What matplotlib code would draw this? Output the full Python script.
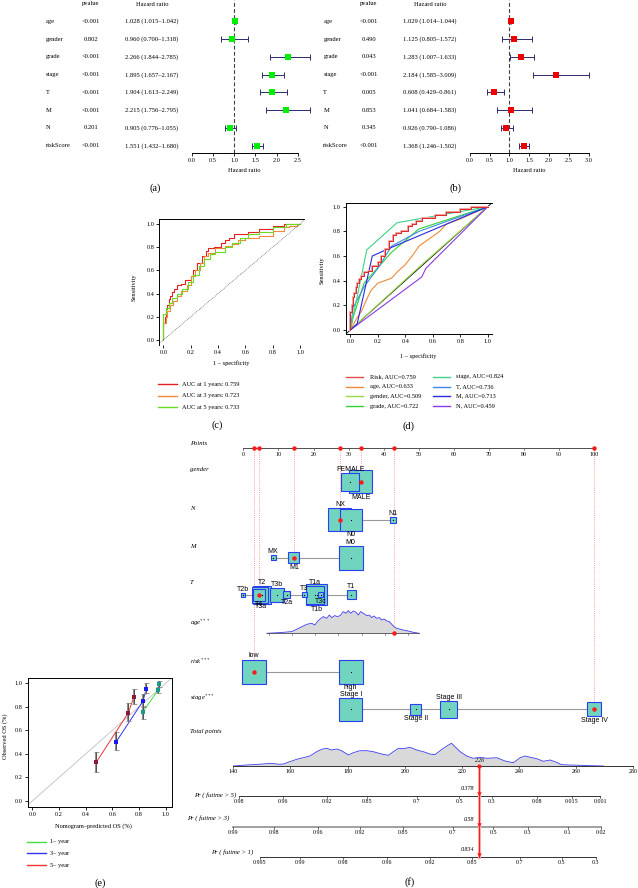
import matplotlib
matplotlib.use("Agg")
import matplotlib.pyplot as plt
import matplotlib.transforms as mtransforms
from matplotlib.lines import Line2D
from matplotlib.patches import Rectangle
import numpy as np

W, H = 638, 888
plt.rcParams["font.family"] = ["Liberation Serif", "DejaVu Serif"]
plt.rcParams["mathtext.fontset"] = "stix"

# ---- (a)/(b) forest plots ----
forest_vars = ["age", "gender", "grade", "stage", "T", "M", "N", "riskScore"]
uni_p = ["<0.001", "0.802", "<0.001", "<0.001", "<0.001", "<0.001", "0.201", "<0.001"]
uni_hr = [1.028, 0.960, 2.266, 1.895, 1.904, 2.215, 0.905, 1.551]
uni_lo = [1.015, 0.700, 1.844, 1.657, 1.613, 1.756, 0.776, 1.432]
uni_hi = [1.042, 1.318, 2.785, 2.167, 2.249, 2.795, 1.055, 1.680]
multi_p = ["<0.001", "0.490", "0.043", "<0.001", "0.005", "0.853", "0.345", "<0.001"]
multi_hr = [1.029, 1.125, 1.283, 2.184, 0.608, 1.041, 0.926, 1.368]
multi_lo = [1.014, 0.805, 1.007, 1.585, 0.429, 0.684, 0.790, 1.246]
multi_hi = [1.044, 1.572, 1.633, 3.009, 0.861, 1.583, 1.086, 1.502]

# ---- (c) time ROC ----
roc1_x = [0, 0, 0.01, 0.02, 0.03, 0.04, 0.05, 0.06, 0.08, 0.10, 0.13, 0.16, 0.20, 0.22, 0.25, 0.28,
          0.31, 0.33, 0.37, 0.42, 0.45, 0.48, 0.52, 0.55, 0.62, 0.70, 0.80, 0.88, 0.90, 1.0]
roc1_y = [0, 0.13, 0.15, 0.20, 0.27, 0.30, 0.35, 0.38, 0.41, 0.44, 0.47, 0.48, 0.52, 0.55, 0.60, 0.66,
          0.72, 0.77, 0.79, 0.80, 0.84, 0.86, 0.88, 0.91, 0.91, 0.93, 0.96, 0.98, 1.0, 1.0]
roc3_x = [0, 0, 0.02, 0.03, 0.05, 0.07, 0.10, 0.13, 0.17, 0.20, 0.23, 0.27, 0.30, 0.33, 0.38, 0.45,
          0.50, 0.55, 0.60, 0.70, 0.80, 0.88, 0.92, 0.98, 1.0]
roc3_y = [0, 0.10, 0.15, 0.20, 0.25, 0.30, 0.34, 0.38, 0.42, 0.47, 0.55, 0.60, 0.66, 0.72, 0.75, 0.79,
          0.81, 0.83, 0.86, 0.88, 0.90, 0.94, 0.97, 0.98, 1.0]
roc5_x = [0, 0, 0.02, 0.04, 0.06, 0.10, 0.14, 0.18, 0.22, 0.26, 0.30, 0.34, 0.38, 0.45, 0.50, 0.56,
          0.62, 0.70, 0.80, 0.90, 0.98, 1.0]
roc5_y = [0, 0.10, 0.22, 0.28, 0.32, 0.36, 0.40, 0.44, 0.50, 0.56, 0.64, 0.70, 0.74, 0.76, 0.80, 0.84,
          0.88, 0.91, 0.93, 0.97, 1.0, 1.0]
roc_c_labels = ["AUC at 1 years: 0.759", "AUC at 3 years: 0.723", "AUC at 5 years: 0.733"]

# ---- (d) ROC of clinical variables ----
risk_x = roc1_x
risk_y = roc1_y
age_x = [0, 0.05, 0.08, 0.12, 0.15, 0.20, 0.25, 0.30, 0.35, 0.40, 0.45, 0.50, 0.55, 0.60, 0.65, 0.70, 0.80, 1.0]
age_y = [0, 0.10, 0.15, 0.25, 0.32, 0.38, 0.40, 0.42, 0.48, 0.53, 0.60, 0.68, 0.72, 0.76, 0.80, 0.86, 0.90, 1.0]
gender_x = [0, 0.50, 1.0]
gender_y = [0, 0.51, 1.0]
grade_x = [0, 0.02, 0.10, 0.30, 0.50, 1.0]
grade_y = [0, 0.10, 0.38, 0.63, 0.82, 1.0]
stage_x = [0, 0.12, 0.34, 1.0]
stage_y = [0, 0.65, 0.87, 1.0]
t_x = [0, 0.02, 0.10, 0.20, 0.30, 0.50, 1.0]
t_y = [0, 0.18, 0.35, 0.50, 0.68, 0.80, 1.0]
m_x = [0, 0.05, 0.16, 0.30, 1.0]
m_y = [0, 0.05, 0.60, 0.67, 1.0]
n_x = [0, 0.52, 0.55, 1.0]
n_y = [0, 0.43, 0.50, 1.0]
roc_d_labels = ["Risk, AUC=0.759", "age, AUC=0.633", "gender, AUC=0.509", "grade, AUC=0.722",
                "stage, AUC=0.824", "T, AUC=0.736", "M, AUC=0.713", "N, AUC=0.459"]

# ---- (e) calibration ----
cal1_pred = [0.83, 0.945, 0.95]
cal1_obs = [0.76, 0.945, 0.995]
cal1_lo = [0.70, 0.92, 0.97]
cal1_hi = [0.81, 0.97, 1.02]
cal3_pred = [0.63, 0.83, 0.855]
cal3_obs = [0.505, 0.85, 0.955]
cal3_lo = [0.43, 0.80, 0.92]
cal3_hi = [0.59, 0.91, 1.00]
cal5_pred = [0.48, 0.72, 0.76]
cal5_obs = [0.33, 0.75, 0.88]
cal5_lo = [0.25, 0.68, 0.82]
cal5_hi = [0.42, 0.83, 0.95]

# ---- (f) nomogram (points) ----
gender_lv = ["FEMALE", "MALE"]
gender_pts = [30.5, 33.5]
gender_sz = [18, 23]
n_lv = ["NX", "N0", "N1"]
n_pts = [27.5, 30.6, 42.7]
n_sz = [23, 22, 6]
m_lv = ["MX", "M1", "M0"]
m_pts = [8.5, 14.4, 30.6]
m_sz = [5, 11, 24]
t_lv = ["T2b", "T2", "T3a", "T4", "T3b", "T2a", "T3", "T1b", "T1a", "T3c", "T1"]
t_pts = [0.0, 5.4, 4.9, 4.6, 9.6, 12.4, 17.3, 20.9, 20.4, 22.0, 30.7]
t_sz = [4, 18, 16, 12, 14, 7, 5, 21, 18, 5, 9]
risk_lv = ["low", "high"]
risk_pts = [2.95, 30.6]
risk_sz = [24, 24]
stage_lv = ["Stage I", "Stage II", "Stage III", "Stage IV"]
stage_pts = [30.6, 49.2, 58.5, 100]
stage_sz = [23, 11, 17, 14]
age_dens_pts = [6.7, 10.5, 13.8, 16.2, 18.1, 19.5, 20.4, 21.1, 21.9, 22.8, 23.8, 24.5, 25.2, 26.1, 26.8,
                27.6, 28.5, 29.3, 29.9, 30.6, 31.4, 32.1, 32.8, 33.4, 34.2, 35.2, 35.9, 36.6, 37.2, 38.0,
                38.8, 39.4, 40.1, 40.9, 41.6, 42.3, 42.9, 43.7, 44.7, 45.6, 47.0, 48.4, 50.1]
age_dens_h = [0, 0.7, 1.7, 5.7, 9.0, 10.0, 8.3, 11.7, 14.3, 16.7, 15.0, 18.3, 15.7, 17.7, 16.7,
              17.7, 21.7, 20.0, 22.7, 20.0, 22.3, 21.0, 18.3, 21.7, 20.0, 17.7, 18.3, 15.7, 17.3, 15.0,
              15.7, 13.3, 14.3, 12.3, 11.7, 9.0, 6.7, 5.0, 4.0, 3.3, 2.3, 1.0, 0]
age_tick_pts = [7.3, 13.8, 20.4, 27.1, 33.7, 40.4, 47.0]
age_value_pts = 42.8

# ---- (f) nomogram (total points / probabilities) ----
tot_dens_t = [140.0, 144.7, 150.5, 152.8, 156.3, 157.5, 159.8, 162.2, 164.5, 166.8, 169.2, 170.9, 172.7,
              174.4, 176.2, 177.9, 180.3, 182.0, 184.3, 186.7, 189.0, 191.9, 194.3, 196.0, 197.8, 199.5,
              201.8, 204.2, 206.5, 208.8, 210.6, 211.2, 213.5, 215.3, 216.4, 217.6, 219.4, 221.7, 224.0,
              226.4, 228.7, 232.2, 235.1, 238.0, 240.4, 242.1, 243.9, 246.2, 248.5, 250.9, 252.6, 254.9,
              257.9, 261.4, 264.9, 269.5]
tot_dens_h = [0, 1.0, 2.0, 2.7, 1.7, 2.0, 4.3, 6.7, 8.3, 10.0, 14.3, 16.7, 17.7,
              16.0, 17.0, 15.3, 11.0, 13.3, 15.3, 15.3, 14.3, 12.0, 10.7, 14.3, 17.7, 17.3,
              18.7, 16.0, 14.3, 12.0, 11.3, 12.7, 17.7, 21.0, 22.7, 19.3, 14.3, 10.0, 7.7,
              8.7, 7.7, 8.3, 5.0, 3.3, 8.3, 10.0, 8.7, 7.3, 4.7, 6.0, 4.3, 1.3,
              1.0, 0.7, 0.3, 0]
tot_ticks = [140, 160, 180, 200, 220, 240, 260, 280]
total_score = 226
pr5_labels = ["0.98", "0.96", "0.92", "0.85", "0.7", "0.5", "0.3", "0.08", "0.015", "0.001"]
pr5_at = [142.1, 157.3, 172.7, 186.7, 204.2, 219.0, 230.4, 246.4, 258.4, 268.4]
pr3_labels = ["0.99", "0.98", "0.96", "0.92", "0.85", "0.7", "0.5", "0.3", "0.1", "0.02"]
pr3_at = [140.0, 154.4, 169.5, 184.3, 199.3, 216.8, 231.0, 243.0, 257.0, 268.6]
pr1_labels = ["0.995", "0.99", "0.98", "0.96", "0.92", "0.85", "0.7", "0.5", "0.3"]
pr1_at = [149.3, 163.3, 178.3, 193.7, 208.8, 223.4, 240.3, 254.9, 266.8]
pred_probs = ["0.378", "0.58", "0.834"]

fig = plt.figure(figsize=(W / 100, H / 100), dpi=100)
PX = mtransforms.Affine2D().scale(1 / W, -1 / H).translate(0, 1) + fig.transFigure


def px_ax(x0, y0, x1, y1, **kw):
    return fig.add_axes([x0 / W, 1 - y1 / H, (x1 - x0) / W, (y1 - y0) / H], **kw)


def ftext(x, y, s, **kw):
    kw.setdefault("ha", "center")
    kw.setdefault("va", "center")
    kw.setdefault("fontsize", 4.6)
    return fig.text(x, y, s, transform=PX, **kw)


def fline(xs, ys, **kw):
    fig.add_artist(Line2D(xs, ys, transform=PX, **kw))


def lim(p0, p1, a0, v0, a1, v1):
    s = (v1 - v0) / (a1 - a0)
    return v0 + (p0 - a0) * s, v0 + (p1 - a0) * s


# ---------------- (a) and (b) ----------------
def forest(bx0, bx1, px0, px_end, tick_end, lab_x, p_x, hr_x, pv, hr, lo, hi, color, tag, tag_x):
    ax = px_ax(bx0, 0, bx1, 152.7)
    ax.set_xlim(*lim(bx0, bx1, px0, 0, px_end, tick_end))
    ax.set_ylim(*lim(152.7, 0, 21.3, 0, 145.7, 7))
    rows = np.arange(len(hr))
    hr, lo, hi = np.array(hr), np.array(lo), np.array(hi)
    ax.axvline(1, color="0.25", lw=0.8, ls=(0, (3.5, 2)), zorder=1)
    ax.errorbar(hr, rows, xerr=[hr - lo, hi - hr], fmt="none", ecolor="#2d2d70",
                elinewidth=0.7, capsize=2.3, capthick=0.7, zorder=2)
    ax.plot(hr, rows, "s", color=color, ms=5, mew=0, zorder=3)
    for s in ["top", "right", "left"]:
        ax.spines[s].set_visible(False)
    ax.spines["bottom"].set_bounds(0, tick_end)
    ax.spines["bottom"].set_linewidth(0.7)
    ticks = np.arange(0, tick_end + 0.01, 0.5)
    ax.set_xticks(ticks)
    ax.set_xticklabels([f"{t:.1f}" for t in ticks])
    ax.set_yticks([])
    ax.tick_params(axis="x", labelsize=4.5, length=2.5, width=0.6, pad=1.5)
    ax.patch.set_alpha(0)
    tr = mtransforms.blended_transform_factory(PX, ax.transData)
    for i, name in enumerate(forest_vars):
        ax.text(lab_x, i, name, transform=tr, ha="left", va="center", fontsize=4.7)
        ax.text(p_x, i, pv[i], transform=tr, ha="center", va="center", fontsize=4.7)
        ax.text(hr_x, i, f"{hr[i]:.3f} ({lo[i]:.3f}\u2013{hi[i]:.3f})", transform=tr,
                ha="center", va="center", fontsize=4.7)
    ftext(p_x, 4, "pvalue", fontsize=4.7)
    ftext(hr_x, 4, "Hazard ratio", fontsize=4.7)
    ftext((px0 + px_end) / 2, 171, "Hazard ratio", fontsize=4.7)
    ftext(tag_x, 188, tag, fontsize=7.5)


forest(185, 318, 191.7, 297.7, 2.5, 45.7, 90.7, 152, uni_p, uni_hr, uni_lo, uni_hi,
       "#00ee00", "(a)", 155)
forest(462, 600, 469.7, 588.7, 3.0, 323.3, 369, 430, multi_p, multi_hr, multi_lo, multi_hi,
       "#ee0000", "(b)", 455)


def roc_axes(x0, y0, x1, y1, ox, onex, oy, oney, bottom):
    ax = px_ax(x0, y0, x1, y1)
    ax.set_xlim(*lim(x0, x1, ox, 0, onex, 1))
    ax.set_ylim(*lim(y1, y0, oy, 0, oney, 1))
    ax.spines["right"].set_visible(False)
    ax.spines["bottom"].set_visible(bottom)
    for s in ax.spines.values():
        s.set_linewidth(0.7)
    ticks = np.arange(0, 1.01, 0.2)
    ax.set_xticks(ticks)
    ax.set_yticks(ticks)
    ax.set_xticklabels([f"{t:.1f}" for t in ticks])
    ax.set_yticklabels([f"{t:.1f}" for t in ticks])
    ax.tick_params(labelsize=4.5, length=2, width=0.6, pad=1.5)
    return ax


# ---------------- (c) ----------------
axc = roc_axes(159.3, 219.3, 304.3, 345, 163.3, 300, 340, 224, False)
c_cols = ["#e42020", "#ee8a3a", "#66dd22"]
for xs, ys, col in zip([roc1_x, roc3_x, roc5_x], [roc1_y, roc3_y, roc5_y], c_cols):
    axc.plot(xs, ys, color=col, lw=0.8, drawstyle="steps-pre")
axc.axline((0, 0), (1, 1), color="0.2", lw=0.5, ls=(0, (1, 1.5)))
ftext(231.7, 362.7, "1 \u2013 specificity")
ftext(134, 286.7, "Sensitivity", rotation=90)
for i, (lab, col) in enumerate(zip(roc_c_labels, c_cols)):
    y = 384 + i * 11.5
    fline([158, 176.7], [y, y], color=col, lw=1)
    ftext(182, y, lab, ha="left")
ftext(216.7, 425, "(c)", fontsize=7.5)

# ---------------- (d) ----------------
axd = roc_axes(345.7, 202.7, 492.3, 334.3, 350.3, 487.7, 330, 206.7, True)
d_cols = ["#e84a4a", "#ee8a3a", "#9ad84a", "#33d033", "#3ed28a", "#3a8ee6", "#2a2ae0", "#8a3ae6"]
axd.axline((0, 0), (1, 1), color="black", lw=0.6)
d_xs = [risk_x, age_x, gender_x, grade_x, stage_x, t_x, m_x, n_x]
d_ys = [risk_y, age_y, gender_y, grade_y, stage_y, t_y, m_y, n_y]
for k in [2, 7, 1, 3, 5, 6, 4]:
    axd.plot(d_xs[k], d_ys[k], color=d_cols[k], lw=0.8)
axd.plot(risk_x, risk_y, color="#f2a0a0", lw=1.4, drawstyle="steps-pre")
axd.plot(risk_x, risk_y, color="#e02828", lw=0.7, drawstyle="steps-pre")
ftext(418.5, 356, "1 \u2013 specificity")
ftext(322, 270, "Sensitivity", rotation=90)
for i, (lab, col) in enumerate(zip(roc_d_labels, d_cols)):
    x0 = 346 if i < 4 else 433
    y = 376.7 + (i % 4) * 9.8
    fline([x0, x0 + 17], [y, y], color=col, lw=1)
    ftext(x0 + 23.5, y, lab, ha="left")
ftext(408.7, 426, "(d)", fontsize=7.5)

# ---------------- (e) ----------------
axe = px_ax(27.7, 678.3, 171.7, 806.7)
axe.set_xlim(*lim(27.7, 171.7, 32.3, 0, 165.7, 1))
axe.set_ylim(*lim(806.7, 678.3, 801, 0, 683.3, 1))
axe.axline((0, 0), (1, 1), color="#c8c8c8", lw=0.7)
for pred, obs, lo, hi, lc, mc in [(cal1_pred, cal1_obs, cal1_lo, cal1_hi, "#44dd44", "#1a9a8a"),
                                  (cal3_pred, cal3_obs, cal3_lo, cal3_hi, "#3333ee", "#1a1aee"),
                                  (cal5_pred, cal5_obs, cal5_lo, cal5_hi, "#ee3333", "#8b1a3a")]:
    obs, lo, hi = np.array(obs), np.array(lo), np.array(hi)
    axe.plot(pred, obs, color=lc, lw=0.7)
    axe.errorbar(pred, obs, yerr=[obs - lo, hi - obs], fmt="none", ecolor="#8c8c8c",
                 elinewidth=1.4, capsize=1.8, capthick=0.6)
    axe.vlines(pred, lo, hi, color="0.15", lw=0.4)
    axe.plot(pred, obs, "s", color=mc, ms=2.8, mew=0)
ticks = np.arange(0, 1.01, 0.2)
axe.set_xticks(ticks)
axe.set_yticks(ticks)
axe.set_xticklabels([f"{t:.1f}" for t in ticks])
axe.set_yticklabels([f"{t:.1f}" for t in ticks])
axe.tick_params(labelsize=4.5, length=2, width=0.6, pad=1.5)
for s in axe.spines.values():
    s.set_linewidth(0.7)
ftext(93, 826, "Nomogram\u2013predicted OS (%)")
ftext(5, 736.7, "Observed OS (%)", rotation=90)
for i, (lab, col) in enumerate(zip(["1\u2013 year", "3\u2013 year", "5\u2013 year"],
                                   ["#44dd44", "#3333ee", "#ee3333"])):
    y = 841.7 + i * 11.7
    fline([27, 45.7], [y, y], color=col, lw=1)
    ftext(50, y, lab, ha="left")
ftext(100, 883, "(e)", fontsize=7.5)

# ---------------- (f) nomogram ----------------
axf = px_ax(230, 438, 638, 872, label="pts")
axf.set_xlim(*lim(230, 638, 243.3, 0, 594.3, 100))
axf.set_ylim(872, 438)
axf.axis("off")
axt = px_ax(230, 438, 638, 872, label="tot")
axt.set_xlim(*lim(230, 638, 233.3, 140, 633.3, 280))
axt.set_ylim(872, 438)
axt.axis("off")
ppt = (594.3 - 243.3) / 100  # pixels per point

BOX_FC, BOX_EC, RED = "#70d4bf", "#2a3ff0", "#ff1a1a"
ROW_Y = {"gender": 482, "N": 520, "M": 558, "T": 595, "age": 633.3, "risk": 671.7, "stage": 709.5}

# points scale
axf.plot([0, 100], [448, 448], color="0.3", lw=0.7)
for v in range(0, 101, 10):
    axf.plot([v, v], [448, 450.5], color="0.3", lw=0.5)
    axf.text(v, 451.5, str(v), ha="center", va="top", fontsize=4.3)


def draw_var(levels, pts, sizes, y, pos, chosen):
    axf.plot([min(pts), max(pts)], [y, y], color="0.6", lw=0.8, zorder=1)
    order = np.argsort(sizes)[::-1]
    for k in order:
        w = sizes[k] / ppt
        axf.add_patch(Rectangle((pts[k] - w / 2, y - sizes[k] / 2), w, sizes[k],
                                fc=BOX_FC, ec=BOX_EC, lw=0.8, zorder=2))
        axf.plot(pts[k], y, "s", color="black", ms=0.8, mew=0, zorder=3)
    for k, lab in enumerate(levels):
        if pos[k] == "a":
            axf.text(pts[k], y - sizes[k] / 2 - 0.3, lab, ha="center", va="bottom",
                     fontsize=5, family="Liberation Sans", zorder=4)
        else:
            axf.text(pts[k], y + sizes[k] / 2 + 0.3, lab, ha="center", va="top",
                     fontsize=5, family="Liberation Sans", zorder=4)
    axf.plot(pts[chosen], y, "o", color=RED, ms=3.2, mew=0, zorder=5)
    axf.plot([pts[chosen]] * 2, [448, y], color="#ff8080", lw=0.6, ls=(0, (1, 1.5)), zorder=0)
    axf.plot(pts[chosen], 448, "o", color=RED, ms=3.2, mew=0, zorder=5, clip_on=False)


draw_var(gender_lv, gender_pts, gender_sz, ROW_Y["gender"], "ab", 1)
draw_var(n_lv, n_pts, n_sz, ROW_Y["N"], "aba", 0)
draw_var(m_lv, m_pts, m_sz, ROW_Y["M"], "aba", 1)
draw_var(t_lv, t_pts, t_sz, ROW_Y["T"], "aabbabababa", 3)
draw_var(risk_lv, risk_pts, risk_sz, ROW_Y["risk"], "ab", 0)
draw_var(stage_lv, stage_pts, stage_sz, ROW_Y["stage"], "abab", 3)

# age density
ya = ROW_Y["age"]
axf.fill_between(age_dens_pts, ya, ya - np.array(age_dens_h), color="#d9d9d9", lw=0)
axf.plot(age_dens_pts, ya - np.array(age_dens_h), color="#3a3af0", lw=0.6)
axf.plot([age_dens_pts[0], age_dens_pts[-1]], [ya, ya], color="0.3", lw=0.6)
for v in age_tick_pts:
    axf.plot([v, v], [ya, ya + 1.8], color="0.3", lw=0.4)
axf.plot([age_value_pts] * 2, [448, ya], color="#ff8080", lw=0.6, ls=(0, (1, 1.5)), zorder=0)
axf.plot(age_value_pts, ya, "o", color=RED, ms=3.2, mew=0, zorder=5)
axf.plot(age_value_pts, 448, "o", color=RED, ms=3.2, mew=0, zorder=5)

# total points
yt = 766
axt.fill_between(tot_dens_t, yt, yt - np.array(tot_dens_h), color="#d9d9d9", lw=0)
axt.plot(tot_dens_t, yt - np.array(tot_dens_h), color="#3a3af0", lw=0.6)
axt.plot([tot_ticks[0], tot_ticks[-1]], [yt, yt], color="0.2", lw=0.7)
for v in tot_ticks:
    axt.plot([v, v], [yt, yt + 2.2], color="0.2", lw=0.5)
    axt.text(v, yt + 3, str(v), ha="center", va="top", fontsize=4.3)


def prob_axis(at, labels, y, color, lw):
    axt.plot([at[0], at[-1]], [y, y], color=color, lw=lw)
    for v, lab in zip(at, labels):
        axt.plot([v, v], [y, y + 2], color="0.2", lw=0.5)
        axt.text(v, y + 3, lab, ha="center", va="top", fontsize=4.3)


prob_axis(pr5_at, pr5_labels, 795.7, "0.2", 0.7)
prob_axis(pr3_at, pr3_labels, 826.7, "0.6", 1.3)
prob_axis(pr1_at, pr1_labels, 856.7, "0.2", 0.7)

axt.plot([total_score] * 2, [yt, 856.7], color="#ffb0b0", lw=2.2, zorder=4)
axt.plot([total_score] * 2, [yt, 856.7], color="#ee2020", lw=0.8, zorder=5)
axt.plot(total_score, yt, "o", color=RED, ms=3, mew=0, zorder=6)
axt.text(total_score, yt - 2.5, str(total_score), ha="center", va="bottom", fontsize=4.3,
         style="italic", zorder=6)
for y, lab in zip([795.7, 826.7, 856.7], pred_probs):
    axt.plot(total_score, y - 1.6, "v", color=RED, ms=3.2, mew=0, zorder=6)
    axt.text(total_score - 1.8, y - 4.5, lab, ha="right", va="bottom", fontsize=4.3,
             style="italic")

# row labels
for lab, y in [("Points", 443), ("gender", 469), ("N", 508), ("M", 546), ("T", 582.7),
               ("age$^{***}$", 623), ("risk$^{***}$", 661), ("stage$^{***}$", 698),
               ("Total points", 731)]:
    ftext(190, y, lab, ha="left", style="italic", fontsize=4.8)
ftext(236, 795, "Pr ( futime > 5)", ha="right", style="italic", fontsize=4.8)
ftext(229, 818, "Pr ( futime > 3)", ha="right", style="italic", fontsize=4.8)
ftext(253, 852, "Pr ( futime > 1)", ha="right", style="italic", fontsize=4.8)
ftext(410, 882, "(f)", fontsize=7.5)

fig.savefig("out.png", dpi=100, facecolor="white")
